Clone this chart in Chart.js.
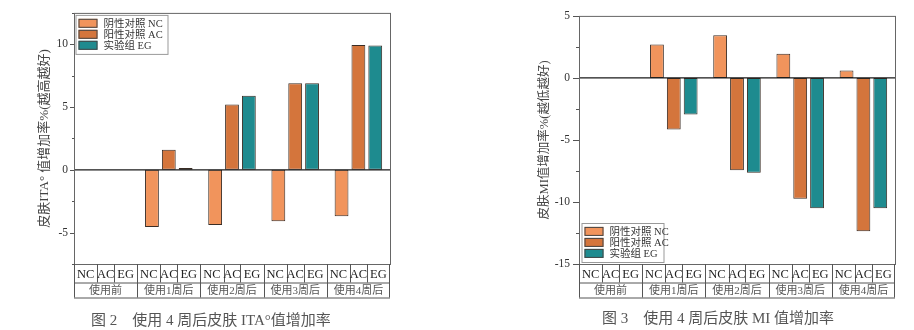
<!DOCTYPE html>
<html>
<head>
<meta charset="utf-8">
<script src="https://cdn.jsdelivr.net/npm/chart.js@4"></script>
<style>
  body { margin: 0; background: #fff; width: 914px; height: 330px; position: relative; overflow: hidden; }
  canvas { position: absolute; top: 0; }
  #itaChart { left: 0; }
  #miChart { left: 457px; }
  .caption {
    position: absolute;
    font-family: "Liberation Serif", "Noto Sans CJK SC", serif;
    font-size: 15px;
    line-height: 18px;
    color: #555;
    white-space: pre;
  }
</style>
</head>
<body>
<canvas id="itaChart" width="457" height="330"></canvas>
<canvas id="miChart" width="457" height="330"></canvas>
<div class="caption" style="left:91px; top:311px">图 2　使用 4 周后皮肤 ITA°值增加率</div>
<div class="caption" style="left:602px; top:309px">图 3　使用 4 周后皮肤 MI 值增加率</div>

<script>
// groups on the x axis and the three test arms
const groups = ['使用前', '使用1周后', '使用2周后', '使用3周后', '使用4周后'];
const armNames = ['阴性对照 NC', '阳性对照 AC', '实验组 EG'];
const armCodes = ['NC', 'AC', 'EG'];
const armColors = ['#F1945C', '#D4753C', '#1E8B8F'];

// ITA° increase rate (%)
const itaNC = [0, -4.55, -4.4, -4.1, -3.7];
const itaAC = [0, 1.6, 5.2, 6.9, 9.95];
const itaEG = [0, 0.15, 5.9, 6.9, 9.9];

// MI increase rate (%)
const miNC = [0, 2.7, 3.45, 1.95, 0.6];
const miAC = [0, -4.15, -7.45, -9.75, -12.35];
const miEG = [0, -2.95, -7.65, -10.5, -10.5];

const serif = '"Liberation Serif", "Noto Sans CJK SC", serif';

// frame, zero line, tick marks and the two-row category table under the plot
const tablePlugin = {
    id: 'tablePlugin',
    afterDatasetsDraw(chart, args, opts) {
        const ctx = chart.ctx;
        const area = chart.chartArea;
        const xs = chart.scales.x;
        const ys = chart.scales.y;

        ctx.save();

        // zero line
        const y0 = ys.getPixelForValue(0);
        ctx.strokeStyle = '#1a1a1a';
        ctx.lineWidth = 1.2;
        ctx.beginPath();
        ctx.moveTo(area.left, y0);
        ctx.lineTo(area.right, y0);
        ctx.stroke();

        // plot frame
        ctx.strokeStyle = '#666';
        ctx.lineWidth = 1;
        ctx.strokeRect(area.left + 0.5, area.top + 0.5, area.right - area.left, area.bottom - area.top);

        // major / minor ticks on the y axis
        ctx.strokeStyle = '#555';
        for (const t of ys.ticks) {
            const y = Math.round(ys.getPixelForValue(t.value)) + 0.5;
            const major = Math.abs(t.value % 5) < 1e-6;
            const len = major ? opts.tickLen : opts.tickLen / 2;
            ctx.beginPath();
            ctx.moveTo(area.left - len, y);
            ctx.lineTo(area.left, y);
            ctx.stroke();
        }

        // table
        const top = area.bottom;
        const mid = top + 18.5;
        const bottom = top + 33.5;
        ctx.strokeStyle = '#555';
        ctx.beginPath();
        ctx.moveTo(area.left, mid + 0.5); ctx.lineTo(area.right, mid + 0.5);
        ctx.moveTo(area.left, bottom + 0.5); ctx.lineTo(area.right, bottom + 0.5);
        ctx.stroke();

        const half = (xs.getPixelForValue(1) - xs.getPixelForValue(0)) / 2;
        ctx.textAlign = 'center';
        ctx.textBaseline = 'middle';

        groups.forEach((g, i) => {
            const cx = xs.getPixelForValue(i);
            const l = cx - half;
            const r = cx + half;
            const centers = chart.data.datasets.map((d, k) => chart.getDatasetMeta(k).data[i].x);
            const edges = [l];
            for (let k = 1; k < centers.length; k++) edges.push((centers[k - 1] + centers[k]) / 2);
            edges.push(r);

            ctx.beginPath();
            ctx.moveTo(Math.round(l) + 0.5, top);
            ctx.lineTo(Math.round(l) + 0.5, bottom);
            if (i === groups.length - 1) {
                ctx.moveTo(Math.round(r) - 0.5, top);
                ctx.lineTo(Math.round(r) - 0.5, bottom);
            }
            for (let k = 1; k < edges.length - 1; k++) {
                ctx.moveTo(Math.round(edges[k]) + 0.5, top);
                ctx.lineTo(Math.round(edges[k]) + 0.5, mid);
            }
            ctx.stroke();

            ctx.fillStyle = '#222';
            ctx.font = '12.5px ' + serif;
            armCodes.forEach((c, k) => {
                ctx.fillText(c, (edges[k] + edges[k + 1]) / 2, (top + mid) / 2 + 1);
            });

            ctx.fillStyle = '#555';
            ctx.font = '11px ' + serif;
            ctx.fillText(g, cx, (mid + bottom) / 2 + 1);
        });

        ctx.restore();
    }
};

// boxed legend sitting inside the plot
const boxLegend = {
    id: 'boxLegend',
    afterDraw(chart, args, opts) {
        const ctx = chart.ctx;
        const area = chart.chartArea;
        const x = area.left + opts.dx;
        const y = opts.fromBottom ? area.bottom - opts.dy - opts.h : area.top + opts.dy;

        ctx.save();
        ctx.fillStyle = '#fff';
        ctx.fillRect(x, y, opts.w, opts.h);
        ctx.strokeStyle = '#999';
        ctx.lineWidth = 1;
        ctx.strokeRect(x + 0.5, y + 0.5, opts.w, opts.h);

        ctx.font = '10.5px ' + serif;
        ctx.textBaseline = 'middle';
        ctx.textAlign = 'left';
        chart.data.datasets.forEach((ds, k) => {
            const cy = y + 8.4 + k * 11;
            ctx.fillStyle = ds.backgroundColor;
            ctx.fillRect(x + 3, cy - 4.5, 19, 9);
            ctx.strokeStyle = '#444';
            ctx.strokeRect(x + 3.5, cy - 4, 18, 8);
            ctx.fillStyle = '#333';
            ctx.fillText(ds.label, x + 28, cy + 0.5);
        });
        ctx.restore();
    }
};

function makeChart(id, series, cfg) {
    const datasets = series.map((values, k) => ({
        label: armNames[k],
        data: values,
        backgroundColor: armColors[k],
        borderColor: '#3a2d25',
        borderWidth: 1,
        borderSkipped: false,
        categoryPercentage: 0.8,
        barPercentage: 0.82
    }));

    return new Chart(document.getElementById(id), {
        type: 'bar',
        data: { labels: groups, datasets: datasets },
        options: {
            responsive: false,
            animation: false,
            devicePixelRatio: 1,
            layout: { padding: { left: 0, right: cfg.padRight, top: 10, bottom: 32 } },
            plugins: {
                legend: { display: false },
                tooltip: { enabled: false },
                tablePlugin: { tickLen: cfg.tickLen },
                boxLegend: cfg.legend
            },
            scales: {
                x: {
                    ticks: { display: false },
                    grid: { display: false },
                    border: { display: false },
                    afterFit: s => { s.height = 34; }
                },
                y: {
                    min: cfg.min,
                    max: cfg.max,
                    afterFit: s => { s.width = cfg.axisWidth; },
                    border: { display: false },
                    grid: { display: false, drawTicks: false },
                    ticks: {
                        stepSize: 2.5,
                        padding: cfg.tickPad,
                        color: '#333',
                        font: { family: serif, size: 11.5 },
                        callback: v => (Math.abs(v % 5) < 1e-6 ? String(v) : '')
                    },
                    title: {
                        display: true,
                        text: cfg.title,
                        color: '#444',
                        font: { family: serif, size: cfg.titleSize },
                        padding: { top: cfg.titlePad, bottom: 0 }
                    }
                }
            }
        },
        plugins: [tablePlugin, boxLegend]
    });
}

makeChart('itaChart', [itaNC, itaAC, itaEG], {
    min: -7.5, max: 12.5,
    axisWidth: 74, padRight: 67,
    tickLen: 4, tickPad: 6,
    title: '皮肤ITA° 值增加率%(越高越好)',
    titleSize: 13, titlePad: 37,
    legend: { dx: 1.5, dy: 2, w: 92, h: 39, fromBottom: false }
});

makeChart('miChart', [miNC, miAC, miEG], {
    min: -15, max: 5,
    axisWidth: 122, padRight: 19,
    tickLen: 6, tickPad: 9,
    title: '皮肤MI值增加率%(越低越好)',
    titleSize: 12.5, titlePad: 80,
    legend: { dx: 2.5, dy: 2, w: 82, h: 39, fromBottom: true }
});
</script>
</body>
</html>
